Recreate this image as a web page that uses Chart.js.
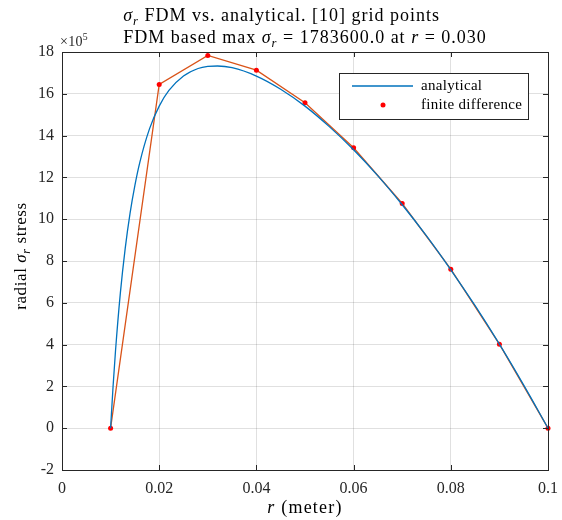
<!DOCTYPE html>
<html>
<head>
<meta charset="utf-8">
<script src="https://cdn.jsdelivr.net/npm/chart.js@4"></script>
<style>
  html, body { margin: 0; padding: 0; background: #fff; }
  #wrap { width: 562px; height: 520px; }
</style>
</head>
<body>
<div id="wrap"><canvas id="stressChart" width="562" height="520"></canvas></div>
<script>
// grid points and FDM result (sigma_r)
const rGrid = [0.01, 0.02, 0.03, 0.04, 0.05, 0.06, 0.07, 0.08, 0.09, 0.10];
const fdmStress = [0, 1645000, 1783600, 1713000, 1557000, 1342000, 1075000, 761000, 402000, 0];

// analytical curve
const rCurve = [0.010, 0.0105, 0.011, 0.012, 0.013, 0.014, 0.015, 0.016, 0.018, 0.020, 0.022,
                0.025, 0.028, 0.030, 0.032, 0.035, 0.040, 0.045, 0.050, 0.055, 0.060,
                0.065, 0.070, 0.075, 0.080, 0.085, 0.090, 0.095, 0.100];
const analyticalStress = [0, 197000, 367000, 645000, 859000, 1028000, 1162000, 1271000, 1432000, 1541000, 1616000,
                          1685000, 1721000, 1731000, 1733000, 1725000, 1685000, 1622000, 1541000, 1443000, 1332000,
                          1207000, 1069000, 920000, 758000, 586000, 402000, 206000, 0];

const xTicks = [0, 0.02, 0.04, 0.06, 0.08, 0.1];
const yTicks = [-2, 0, 2, 4, 6, 8, 10, 12, 14, 16, 18];
const yScaleExp = 5;

const FONT = '"Liberation Serif", "DejaVu Serif", serif';
const INK = '#262626';

// text made of pieces (italic / subscript / superscript), with optional letter spacing
function setFont(ctx, p, size) {
    const s = (p.sub || p.sup) ? size * 0.7 : size;
    ctx.font = (p.i ? 'italic ' : '') + s + 'px ' + FONT;
}
function richWidth(ctx, parts, size, sp) {
    let w = 0;
    parts.forEach(p => {
        setFont(ctx, p, size);
        for (const ch of p.t) w += ctx.measureText(ch).width + sp;
    });
    return w;
}
function drawRich(ctx, parts, x, y, size, sp) {
    ctx.textAlign = 'left';
    ctx.textBaseline = 'alphabetic';
    parts.forEach(p => {
        setFont(ctx, p, size);
        let dy = 0;
        if (p.sub) dy = size * 0.22;
        if (p.sup) dy = -size * 0.42;
        for (const ch of p.t) {
            ctx.fillText(ch, x, y + dy);
            x += ctx.measureText(ch).width + sp;
        }
    });
}

const maxIdx = fdmStress.indexOf(Math.max(...fdmStress));
const titleLine1 = [{t: 'σ', i: 1}, {t: 'r', i: 1, sub: 1}, {t: ' FDM vs. analytical. [' + rGrid.length + '] grid points'}];
const titleLine2 = [{t: 'FDM based max '}, {t: 'σ', i: 1}, {t: 'r', i: 1, sub: 1},
                    {t: ' = ' + fdmStress[maxIdx].toFixed(1) + ' at '}, {t: 'r', i: 1},
                    {t: ' = ' + rGrid[maxIdx].toFixed(3)}];

const decorPlugin = {
    id: 'decor',
    afterDraw(chart) {
        const ctx = chart.ctx;
        const a = chart.chartArea;
        const xs = chart.scales.x, ys = chart.scales.y;
        ctx.save();

        // inward ticks on all four sides
        ctx.strokeStyle = INK;
        ctx.lineWidth = 1;
        ctx.beginPath();
        xTicks.forEach(v => {
            const px = Math.round(xs.getPixelForValue(v)) + 0.5;
            ctx.moveTo(px, a.bottom); ctx.lineTo(px, a.bottom - 5);
            ctx.moveTo(px, a.top); ctx.lineTo(px, a.top + 5);
        });
        yTicks.forEach(v => {
            const py = Math.round(ys.getPixelForValue(v * Math.pow(10, yScaleExp))) + 0.5;
            ctx.moveTo(a.left, py); ctx.lineTo(a.left + 5, py);
            ctx.moveTo(a.right, py); ctx.lineTo(a.right - 5, py);
        });
        ctx.stroke();

        // box
        ctx.strokeRect(Math.round(a.left) + 0.5, Math.round(a.top) + 0.5,
                       Math.round(a.right - a.left), Math.round(a.bottom - a.top));

        // title block, left aligned, centred on the axes
        ctx.fillStyle = '#000';
        const w2 = richWidth(ctx, titleLine2, 18, 1);
        const tx = (a.left + a.right) / 2 - w2 / 2;
        drawRich(ctx, titleLine1, tx, 21, 18, 1);
        drawRich(ctx, titleLine2, tx, 43, 18, 1);

        // exponent label
        ctx.fillStyle = INK;
        drawRich(ctx, [{t: '×10'}, {t: String(yScaleExp), sup: 1}], a.left - 2, a.top - 6, 14, 0.3);

        // x axis title
        ctx.fillStyle = '#000';
        const xt = [{t: 'r', i: 1}, {t: ' (meter)'}];
        drawRich(ctx, xt, (a.left + a.right) / 2 - richWidth(ctx, xt, 18, 1.2) / 2, 513, 18, 1.2);

        // y axis title
        const yt = [{t: 'radial '}, {t: 'σ', i: 1}, {t: 'r', i: 1, sub: 1}, {t: ' stress'}];
        ctx.save();
        ctx.translate(26, (a.top + a.bottom) / 2 - 5);
        ctx.rotate(-Math.PI / 2);
        drawRich(ctx, yt, -richWidth(ctx, yt, 17, 0.6) / 2, 0, 17, 0.6);
        ctx.restore();

        // legend
        const lx = 339.5, ly = 73.5, lw = 189, lh = 46;
        ctx.fillStyle = '#fff';
        ctx.fillRect(lx, ly, lw, lh);
        ctx.strokeStyle = INK;
        ctx.strokeRect(lx, ly, lw, lh);
        ctx.strokeStyle = '#0072BD';
        ctx.lineWidth = 1.3;
        ctx.beginPath();
        ctx.moveTo(352, 86); ctx.lineTo(413, 86);
        ctx.stroke();
        ctx.fillStyle = '#FF0000';
        ctx.beginPath();
        ctx.arc(383, 105, 2.5, 0, Math.PI * 2);
        ctx.fill();
        ctx.fillStyle = '#000';
        drawRich(ctx, [{t: 'analytical'}], 421, 90, 15, 0.3);
        drawRich(ctx, [{t: 'finite difference'}], 421, 109, 15, 0.3);

        ctx.restore();
    }
};

const ctx = document.getElementById('stressChart').getContext('2d');
const stressChart = new Chart(ctx, {
    type: 'line',
    data: {
        datasets: [
            {
                label: 'analytical',
                data: rCurve.map((r, i) => ({x: r, y: analyticalStress[i]})),
                borderColor: '#0072BD',
                borderWidth: 1.3,
                pointRadius: 0,
                cubicInterpolationMode: 'monotone'
            },
            {
                label: 'finite difference',
                data: rGrid.map((r, i) => ({x: r, y: fdmStress[i]})),
                borderColor: '#D95319',
                borderWidth: 1.3,
                pointRadius: 2.5,
                pointBackgroundColor: '#FF0000',
                pointBorderColor: '#FF0000',
                pointBorderWidth: 0,
                tension: 0
            }
        ]
    },
    options: {
        responsive: false,
        animation: false,
        clip: false,
        layout: { padding: { left: 12, right: 14, top: 52, bottom: 0 } },
        plugins: {
            legend: { display: false },
            title: { display: false },
            tooltip: { enabled: false }
        },
        scales: {
            x: {
                type: 'linear',
                min: 0,
                max: 0.1,
                afterBuildTicks: s => { s.ticks = xTicks.map(v => ({value: v})); },
                afterFit: s => { s.height = 50; s.paddingLeft = 0; s.paddingRight = 0; },
                border: { display: false },
                grid: { color: 'rgba(0,0,0,0.12)', drawTicks: false },
                ticks: {
                    padding: 9,
                    color: INK,
                    font: { family: FONT, size: 16 },
                    maxRotation: 0,
                    callback: v => String(v)
                }
            },
            y: {
                type: 'linear',
                min: -200000,
                max: 1800000,
                afterBuildTicks: s => { s.ticks = yTicks.map(v => ({value: v * Math.pow(10, yScaleExp)})); },
                afterFit: s => { s.width = 50; s.paddingTop = 0; s.paddingBottom = 0; },
                border: { display: false },
                grid: { color: 'rgba(0,0,0,0.12)', drawTicks: false },
                ticks: {
                    padding: 8,
                    color: INK,
                    font: { family: FONT, size: 16 },
                    callback: v => String(Math.round(v / Math.pow(10, yScaleExp)))
                }
            }
        }
    },
    plugins: [decorPlugin]
});
</script>
</body>
</html>
